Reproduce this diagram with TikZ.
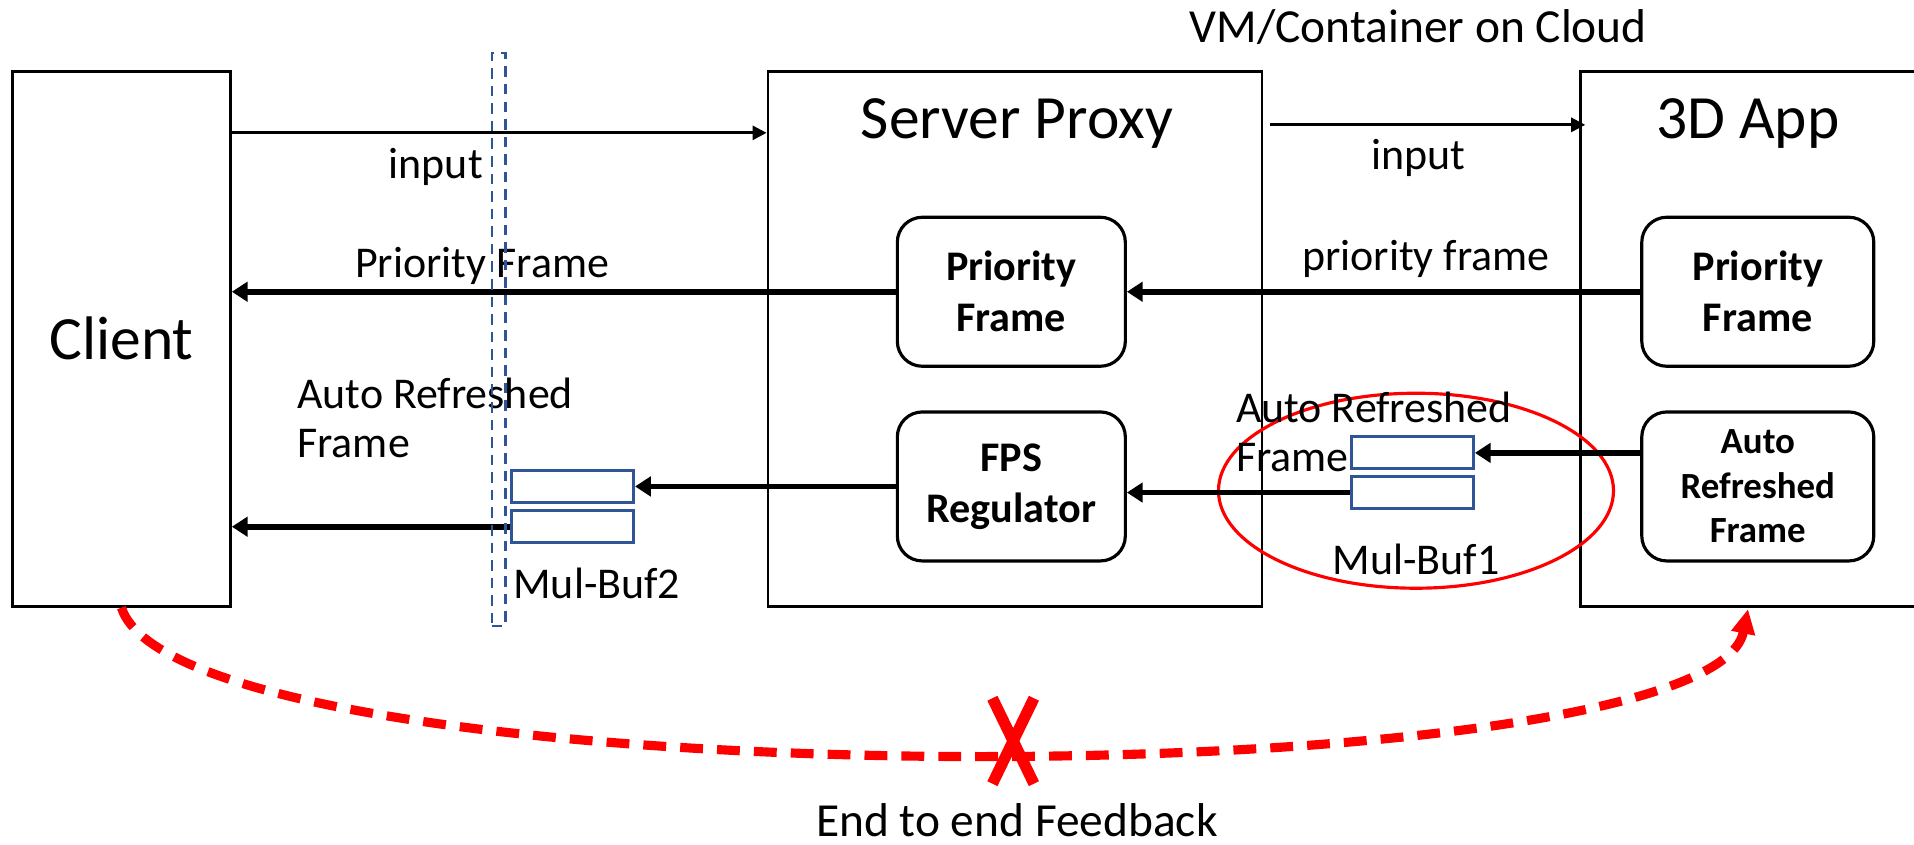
\documentclass[tikz,border=0pt]{standalone}
\usepackage{fontspec}
\setmainfont{Carlito}
\usetikzlibrary{arrows.meta, shapes.geometric}
\definecolor{bufblue}{RGB}{47,85,151}
\definecolor{alertred}{RGB}{255,0,0}

\begin{document}
\begin{tikzpicture}[
    x=0.0122cm, y=-0.0122cm,
    every node/.style={font=\fontsize{12.5}{15}\selectfont},
    panel/.style={draw, line width=0.8pt, minimum width=#1, minimum height=5.35cm, inner sep=0pt},
    block/.style={draw, line width=0.9pt, rounded corners=0.25cm, minimum width=2.28cm, minimum height=1.49cm, align=center, font=\bfseries\fontsize{12}{14.5}\selectfont},
    buffer/.style={draw=bufblue, line width=0.9pt, minimum width=1.22cm, minimum height=0.32cm, inner sep=0pt},
    title/.style={font=\fontsize{17.5}{20}\selectfont},
    note/.style={align=left, inner sep=0pt, font=\fontsize{12.5}{14}\selectfont},
    inarrow/.style={-{Triangle[length=4pt, width=4pt]}, line width=0.8pt},
    framearrow/.style={-{Triangle[length=4.5pt, width=5.5pt]}, line width=1.6pt},
    feedback/.style={-{Triangle[length=7pt, width=6.5pt]}, line width=2.6pt, alertred, dash pattern=on 6.5pt off 4pt},
]

%% Slide area
\useasboundingbox (0,0) rectangle (1568,692);
\clip (0,0) rectangle (1568,692);

%% Client
\node[panel=2.18cm, title] (client) at (99.5,277.5) {Client};

%% Server proxy
\node[panel=4.94cm] (proxy) at (831.5,277.5) {};
\node[title] (proxytitle) at (833,101) {Server Proxy};
\node[block] (pf) at (828.5,239) {Priority\\Frame};
\node[block] (fps) at (828.5,398.5) {FPS\\Regulator};

%% 3D app (runs off the right edge)
\node[panel=3.97cm] (app) at (1457.5,277.5) {};
\node[title] (apptitle) at (1432,101) {3D App};
\node[block, minimum width=2.32cm] (apf) at (1440,239) {Priority\\Frame};
\node[block, minimum width=2.32cm, font=\bfseries\fontsize{10.5}{12.7}\selectfont] (aaf) at (1440,398.5) {Auto\\Refreshed\\Frame};

%% Buffers
\node[buffer] (buftwoa) at (469,398.5) {};
\node[buffer] (buftwob) at (469,431.5) {};
\node[buffer] (bufonea) at (1157,371) {};
\node[buffer] (bufoneb) at (1157,403.5) {};

%% Highlight round Mul-Buf1
\node[ellipse, draw=alertred, line width=0.9pt, minimum width=3.95cm, minimum height=1.95cm, inner sep=0pt] (focus) at (1160,402) {};

%% Labels
\node[font=\fontsize{13.5}{16}\selectfont] (cloud) at (1162,22) {VM/Container on Cloud};
\node (inleft) at (357,137) {input};
\node (inright) at (1162,129) {input};
\node (pfleft) at (395,218) {Priority Frame};
\node (pfright) at (1168,212) {priority frame};
\node[note, anchor=west] (arfleft) at (243,342.5) {Auto Refreshed\\Frame};
\node[note, anchor=west] (arfright) at (1012,354) {Auto Refreshed\\Frame};
\node[note, anchor=west] (buftwolabel) at (420,478) {Mul-Buf2};
\node (bufonelabel) at (1160,458) {Mul-Buf1};
\node[font=\fontsize{13.5}{16}\selectfont] (feedbacklabel) at (833,672) {End to end Feedback};

%% Connections
\draw[inarrow] ([yshift=-0.63cm]client.north east) -- ([yshift=-0.63cm]proxy.north west);
\draw[inarrow] ([xshift=0.07cm, yshift=-0.55cm]proxy.north east) -- ([xshift=0.06cm, yshift=-0.55cm]app.north west);

\draw[framearrow] (pf.west) -- (client.east |- pf.west);
\draw[framearrow] (apf.west) -- (pf.east);
\draw[framearrow] (fps.west) -- (buftwoa.east);
\draw[framearrow] (buftwob.west) -- (client.east |- buftwob.west);
\draw[framearrow] (aaf.west |- bufonea.east) -- (bufonea.east);
\draw[framearrow] (bufoneb.west) -- (fps.east |- bufoneb.west);

%% Network cut
\node[draw=bufblue, dash pattern=on 3pt off 2pt, line width=0.7pt, minimum width=0.134cm, minimum height=5.73cm, inner sep=0pt] (cut) at (408.5,278) {};

%% Feedback loop, broken
\coordinate (fbend) at (1432,499);
\draw[feedback] (client.south) .. controls (150,657) and (1400,657) .. (fbend);
\coordinate (cross) at (830,607);
\draw[alertred, line width=3.2pt] ([shift={(-17,-35)}]cross) -- ([shift={(17,35)}]cross)
    ([shift={(17,-35)}]cross) -- ([shift={(-17,35)}]cross);

\end{tikzpicture}
\end{document}
